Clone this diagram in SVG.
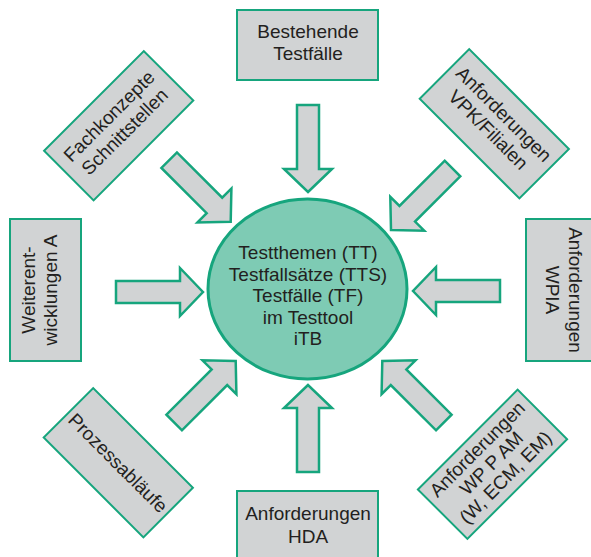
<svg xmlns="http://www.w3.org/2000/svg" xmlns:xlink="http://www.w3.org/1999/xlink" width="591" height="557" viewBox="0 0 591 557">
<style>
.box{fill:#d1d3d4;stroke:#16a57d;stroke-width:2}
.arr{fill:#d1d3d4;stroke:#16a57d;stroke-width:2.5;stroke-linejoin:miter}
.circ{fill:#7ecbb4;stroke:#16a57d;stroke-width:3}
text{font-family:"Liberation Sans",Arial,sans-serif;font-size:19px;fill:#231f20;text-anchor:middle}
</style>
<defs>
<polygon id="arrow" points="0,0 -23,-24 -23,-11 -87,-11 -87,11 -23,11 -23,24"/>
</defs>
<rect width="591" height="557" fill="#ffffff"/>
<g id="connectors">
<use xlink:href="#arrow" class="arr" transform="translate(308,192) rotate(90)"/>
<use xlink:href="#arrow" class="arr" transform="translate(308,385) rotate(-90)"/>
<use xlink:href="#arrow" class="arr" transform="translate(203,292)"/>
<use xlink:href="#arrow" class="arr" transform="translate(413,291) rotate(180)"/>
<use xlink:href="#arrow" class="arr" transform="translate(230.7,221.7) rotate(45)"/>
<use xlink:href="#arrow" class="arr" transform="translate(391,230) rotate(135)"/>
<use xlink:href="#arrow" class="arr" transform="translate(235.7,361) rotate(-45)"/>
<use xlink:href="#arrow" class="arr" transform="translate(382.3,361) rotate(-135)"/>
</g>
<g id="center">
<ellipse class="circ" cx="307.5" cy="289" rx="99.5" ry="90"/>
<text x="308" y="259">Testthemen (TT)</text>
<text x="308" y="280.5">Testfallsätze (TTS)</text>
<text x="308" y="302">Testfälle (TF)</text>
<text x="308" y="323.5">im Testtool</text>
<text x="308" y="345">iTB</text>
</g>
<g id="top">
<rect class="box" x="237" y="10" width="141" height="70"/>
<text x="308" y="38">Bestehende</text>
<text x="308" y="60">Testfälle</text>
</g>
<g id="bottom">
<rect class="box" x="237" y="491" width="141" height="70"/>
<text x="308" y="520">Anforderungen</text>
<text x="308" y="543">HDA</text>
</g>
<g id="left">
<rect class="box" x="10" y="219" width="71" height="142"/>
<g transform="translate(45.5,290) rotate(-90)">
<text x="0" y="-10.5">Weiterent-</text>
<text x="0" y="11">wicklungen A</text>
</g>
</g>
<g id="right">
<rect class="box" x="526" y="219" width="71" height="142"/>
<g transform="translate(561.5,290) rotate(90)">
<text x="0" y="-7">Anforderungen</text>
<text x="0" y="16">WPIA</text>
</g>
</g>
<g id="topleft" transform="translate(118.7,125.7) rotate(-45)">
<rect class="box" x="-70.5" y="-35" width="141" height="70"/>
<text x="0" y="-7">Fachkonzepte</text>
<text x="0" y="15">Schnittstellen</text>
</g>
<g id="topright" transform="translate(494.3,123.8) rotate(45)">
<rect class="box" x="-70.5" y="-35" width="141" height="70"/>
<text x="0" y="-7">Anforderungen</text>
<text x="0" y="15">VPK/Filialen</text>
</g>
<g id="bottomleft" transform="translate(118.3,462.7) rotate(45)">
<rect class="box" x="-70.5" y="-35" width="141" height="70"/>
<text x="0" y="7">Prozessabläufe</text>
</g>
<g id="bottomright" transform="translate(492.5,464.3) rotate(-45)">
<rect class="box" x="-70.5" y="-35" width="141" height="70"/>
<text x="0" y="-15">Anforderungen</text>
<text x="0" y="5">WP P AM</text>
<text x="0" y="25">(W, ECM, EM)</text>
</g>
</svg>
